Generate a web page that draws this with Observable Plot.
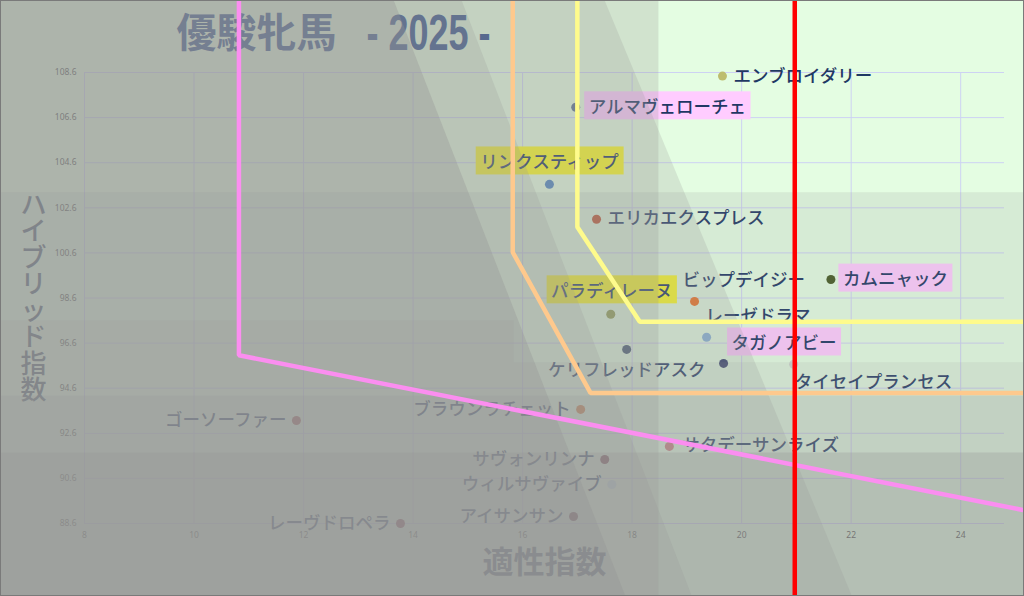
<!DOCTYPE html>
<html><head><meta charset="utf-8">
<script src="https://cdn.jsdelivr.net/npm/d3@7"></script>
<script src="https://cdn.jsdelivr.net/npm/@observablehq/plot@0.6"></script>
<style>body{margin:0;background:#fff} svg{display:block}</style>
</head><body><div id="chart"></div>
<script>
// ---- data ----
const names = ["エンブロイダリー","アルマヴェローチェ","リンクスティップ","エリカエクスプレス","カムニャック","ビップデイジー","パラディレーヌ","レーゼドラマ","タガノアビー","ケリフレッドアスク","タイセイプランセス","ブラウンラチェット","ゴーソーファー","サタデーサンライズ","サヴォンリンナ","ウィルサヴァイブ","アイサンサン","レーヴドロペラ"];
const aptitude = [19.65,16.97,16.49,17.35,21.63,19.14,17.61,19.36,19.67,17.90,20.95,17.06,11.87,18.68,17.50,17.63,16.93,13.77];
const hybrid = [108.44,107.06,103.64,102.09,99.42,98.45,97.88,96.86,95.70,96.32,95.66,93.66,93.17,92.02,91.44,90.33,88.91,88.60];
const dotColors = ["#bdbd6e","#5b7290","#4f86c0","#c0502a","#445a22","#f07020","#8ea050","#88b4d8","#2f3d6a","#3e5570","#cfd6d0","#d07a40","#a05050","#d08080","#703040","#c8e0e8","#602838","#803040"];
const pinkLabels = ["アルマヴェローチェ","カムニャック","タガノアビー"];
const yellowLabels = ["リンクスティップ","パラディレーヌ"];
const xTicks = [8,10,12,14,16,18,20,22,24];
const yTicks = [88.6,90.6,92.6,94.6,96.6,98.6,100.6,102.6,104.6,106.6,108.6];
const titleMain = "優駿牝馬";
const titleYear = "- 2025 -";
const xTitle = "適性指数";
const yTitle = "ハイブリッド指数";

// threshold lines (data units)
const pinkLine = [[10.82,111.9],[10.82,96.06],[25.3,89.12]];
const orangeLine = [[15.82,111.9],[15.82,100.63],[17.24,94.39],[25.3,94.39]];
const yellowLine = [[17.00,111.9],[17.00,101.75],[18.14,97.55],[25.3,97.55]];
const redLine = [[20.97,111.9],[20.97,82.3]];

// shading overlays (data units)
const shadeBand1 = [[6.4,103.29],[25.3,103.29],[25.3,82.3],[6.4,82.3]];
const shadeBand2 = [[6.4,97.61],[15.84,97.61],[15.84,95.75],[25.3,95.75],[25.3,82.3],[6.4,82.3]];
const shadeBand3 = [[6.4,94.28],[25.3,94.28],[25.3,82.3],[6.4,82.3]];
const shadeBand4 = [[6.4,91.75],[25.3,91.75],[25.3,82.3],[6.4,82.3]];
const shadeLeft = [[6.4,111.9],[18.48,111.9],[18.48,82.3],[6.4,82.3]];
const shadeDiag1 = [[6.4,111.9],[17.48,111.9],[22.54,82.3],[6.4,82.3]];
const shadeDiag2 = [[6.4,111.9],[14.87,111.9],[19.58,82.3],[6.4,82.3]];
const shadeDiag3 = [[6.4,111.9],[13.63,111.9],[18.37,82.3],[6.4,82.3]];
const shadeAlpha = [0.17,0.12,0.2,0.3,0.25,0.22,0.22,0.35];

// label placement (style): [dx, dy, anchor]
const labelPlacement = {
  "エンブロイダリー":[11,0,"start"],"アルマヴェローチェ":[13,0,"start"],"リンクスティップ":[0,-22,"middle"],
  "エリカエクスプレス":[11,-1,"start"],"カムニャック":[12,0,"start"],"ビップデイジー":[-12,-21,"start"],
  "パラディレーヌ":[1,-23,"middle"],"レーゼドラマ":[-1,-21,"start"],"タガノアビー":[8,-20,"start"],
  "ケリフレッドアスク":[0,21,"middle"],"タイセイプランセス":[1,18,"start"],"ブラウンラチェット":[-10,0,"end"],
  "ゴーソーファー":[-10,0,"end"],"サタデーサンライズ":[13,-1,"start"],"サヴォンリンナ":[-10,0,"end"],
  "ウィルサヴァイブ":[-10,0,"end"],"アイサンサン":[-10,0,"end"],"レーヴドロペラ":[-10,0,"end"]
};

// ---- build ----
const rows = names.map((n,i)=>({name:n, x:aptitude[i], y:hybrid[i], color:dotColors[i]}));
const pts = a => a.map(([x,y])=>({x,y}));
const shades = [shadeBand1,shadeBand2,shadeBand3,shadeBand4,shadeLeft,shadeDiag1,shadeDiag2,shadeDiag3];
const JP = "'Noto Sans CJK JP', 'Noto Sans', sans-serif";

const svg = Plot.plot({
  width: 1024, height: 596,
  marginLeft: 84, marginRight: 20, marginTop: 72, marginBottom: 73,
  x: {domain: [8, 24.8], label: null},
  y: {domain: [88.6, 108.6], label: null},
  color: {type: "identity"},
  style: {background: "#e4fde2", fontFamily: JP, outline: "1px solid #7a7a7a", outlineOffset: "-1px"},
  marks: [
    Plot.gridX(xTicks, {stroke: "#cdd2f3", strokeOpacity: 1}),
    Plot.gridY(yTicks, {stroke: "#cdd2f3", strokeOpacity: 1}),
    Plot.axisX(xTicks, {tickSize: 0, tickPadding: 8, fontSize: 8.5, fill: "#4a4a4a", label: null, tickFormat: d => String(d), fontFamily: "'Noto Sans', sans-serif"}),
    Plot.axisY(yTicks, {tickSize: 0, tickPadding: 8, fontSize: 8.5, fill: "#4a4a4a", label: null, tickFormat: d => d.toFixed(1), fontFamily: "'Noto Sans', sans-serif"}),
    Plot.text([titleMain], {text: d => d, frameAnchor: "top-left", dx: 92, dy: -38.5, textAnchor: "start", lineAnchor: "middle", fontSize: 40, fontWeight: "bold", fill: "#2b4a8a"}),
    Plot.text([titleYear], {text: d => d, frameAnchor: "top-left", dx: 282, dy: -38.5, textAnchor: "start", lineAnchor: "middle", fontSize: 50, fontWeight: "bold", fill: "#2b4a8a", fontFamily: "'Liberation Sans', sans-serif"}),
    Plot.text([xTitle], {text: d => d, frameAnchor: "bottom", dy: 40, lineAnchor: "middle", textAnchor: "middle", fontSize: 31, fontWeight: "bold", fill: "#44546a"}),
    Plot.text([yTitle.split("").join("\n")], {text: d => d, frameAnchor: "left", dx: -51, textAnchor: "middle", lineAnchor: "middle", fontSize: 26, lineHeight: 1.02, fontWeight: 500, fill: "#44546a"}),
    Plot.dot(rows, {x: "x", y: "y", r: 4.5, fill: "color"}),
    ...rows.map(r => {
      const [dx, dy, anchor] = labelPlacement[r.name];
      return Plot.text([r], {x: "x", y: "y", text: "name", dx, dy, textAnchor: anchor, fontSize: 17.5, fontWeight: 500, fill: "#1f3864"});
    }),
    ...shades.map((s, i) => Plot.line(pts(s), {x: "x", y: "y", fill: "#969694", fillOpacity: shadeAlpha[i], stroke: "none"})),
    Plot.line(pts(pinkLine), {x: "x", y: "y", stroke: "#fb8ef0", strokeWidth: 4.5, strokeLinejoin: "miter", strokeLinecap: "butt"}),
    Plot.line(pts(orangeLine), {x: "x", y: "y", stroke: "#fec98d", strokeWidth: 4.5, strokeLinejoin: "miter", strokeLinecap: "butt"}),
    Plot.line(pts(yellowLine), {x: "x", y: "y", stroke: "#fefb8c", strokeWidth: 4.5, strokeLinejoin: "miter", strokeLinecap: "butt"}),
    Plot.line(pts(redLine), {x: "x", y: "y", stroke: "#ff0000", strokeWidth: 4.5, strokeLinecap: "butt"})
  ]
});
document.getElementById("chart").append(svg);

d3.select(svg).selectAll("text").each(function() {
  const t = this.textContent;
  // condensed look for the year part of the title
  if (t === titleYear) {
    const tr = this.getAttribute("transform") || "";
    this.setAttribute("transform", tr + " scale(0.72,1)");
    return;
  }
  // label highlight backgrounds (drawn beneath their text)
  const c = pinkLabels.includes(t) ? "#ffccff" : yellowLabels.includes(t) ? "#ffff22" : null;
  if (!c) return;
  const b = this.getBBox();
  const rect = document.createElementNS("http://www.w3.org/2000/svg", "rect");
  rect.setAttribute("x", b.x - 4.5);
  rect.setAttribute("y", b.y - 1.5);
  rect.setAttribute("width", b.width + 9);
  rect.setAttribute("height", b.height + 3);
  rect.setAttribute("fill", c);
  const tr = this.getAttribute("transform");
  if (tr) rect.setAttribute("transform", tr);
  this.parentNode.insertBefore(rect, this);
});
</script>
</body></html>
